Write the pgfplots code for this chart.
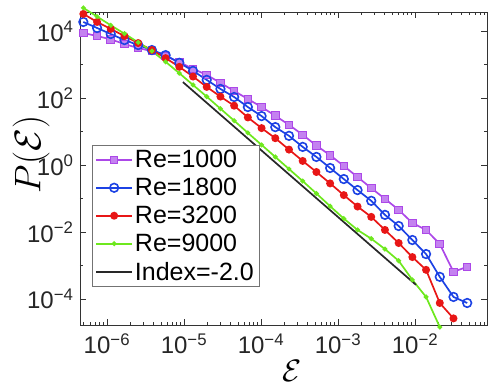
\RequirePackage{fix-cm}
\documentclass[border=0pt]{standalone}
\usepackage{fontspec}
\setmainfont{Liberation Sans}
\usepackage{pgfplots}
\pgfplotsset{compat=1.18}

\definecolor{cpur}{RGB}{172,72,232}
\definecolor{cpurfill}{RGB}{196,130,240}
\definecolor{cblu}{RGB}{28,66,228}
\definecolor{cred}{RGB}{232,22,22}
\definecolor{cgrn}{RGB}{110,232,30}
\definecolor{cblk}{RGB}{40,40,40}

\begin{document}
\begin{tikzpicture}
\begin{axis}[
    scale only axis,
    width=407pt, height=313pt,
    xmode=log, ymode=log,
    xmin=4.47e-7, xmax=0.0861,
    ymin=1.67e-5, ymax=3.69e4,
    clip=false,
    axis line style={draw=black!80, line width=0.5pt},
    tick style={black!80, line width=0.5pt},
    major tick length=6pt, minor tick length=3pt,
    xtick={1e-6,1e-5,1e-4,1e-3,1e-2},
    xticklabels={10\textsuperscript{−6},10\textsuperscript{−5},10\textsuperscript{−4},10\textsuperscript{−3},10\textsuperscript{−2}},
    minor xtick={5e-7,6e-7,7e-7,8e-7,9e-7,
        2e-6,3e-6,4e-6,5e-6,6e-6,7e-6,8e-6,9e-6,
        2e-5,3e-5,4e-5,5e-5,6e-5,7e-5,8e-5,9e-5,
        2e-4,3e-4,4e-4,5e-4,6e-4,7e-4,8e-4,9e-4,
        2e-3,3e-3,4e-3,5e-3,6e-3,7e-3,8e-3,9e-3,
        2e-2,3e-2,4e-2,5e-2,6e-2,7e-2,8e-2},
    ytick={1e-4,1e-2,1,1e2,1e4},
    yticklabels={10\textsuperscript{−4},10\textsuperscript{−2},10\textsuperscript{0},10\textsuperscript{2},10\textsuperscript{4}},
    minor ytick={1e-3,1e-1,10,1e3},
    ticklabel style={font=\fontsize{24}{27}\selectfont, text=black!85},
    xticklabel style={yshift=-5pt},
    yticklabel style={xshift=-3pt},
    xlabel={$\mathcal{E}$},
    ylabel={$P(\mathcal{E})$},
    xlabel style={font=\fontsize{31}{34}\selectfont, at={(axis description cs:0.52,-0.147)}, anchor=center},
    ylabel style={font=\fontsize{37}{40}\selectfont, at={(axis description cs:-0.12,0.545)}, anchor=center, rotate=0},
    legend style={at={(0.0295,0.575)}, anchor=north west,
        font=\fontsize{25}{28}\selectfont, draw=black!55, line width=0.6pt,
        inner sep=3pt, row sep=5pt},
    legend cell align=left,
    legend image code/.code={\draw[mark repeat=2,mark phase=2] plot coordinates {(0pt,0pt)(18pt,0pt)(36pt,0pt)};},
]
\addplot[cpur, line width=1.7pt, mark=square*, mark size=3.8pt,
    mark options={fill=cpurfill, draw=cpur, line width=1pt}] coordinates {
(4.94e-7,8710) (7.45e-7,7079) (1.122e-6,5623) (1.690e-6,4074) (2.547e-6,3090)
(3.837e-6,2512) (5.781e-6,1778) (8.710e-6,1175) (1.312e-5,741) (1.977e-5,490)
(2.979e-5,282) (4.487e-5,162) (6.761e-5,93.3) (1.019e-4,53.7) (1.535e-4,29.5)
(2.312e-4,15.8) (3.483e-4,7.94) (5.248e-4,3.80) (7.907e-4,1.95) (1.191e-3,0.933)
(1.795e-3,0.437) (2.704e-3,0.204) (4.074e-3,0.0977) (6.138e-3,0.0457) (9.247e-3,0.0186)
(1.393e-2,0.0115) (2.099e-2,0.00437) (3.162e-2,6.46e-4) (4.764e-2,9.12e-4)};
\addlegendentry{Re=1000}
\addplot[cblu, line width=1.7pt, mark=o, mark size=4.3pt,
    mark options={line width=1.6pt}] coordinates {
(4.94e-7,18621) (7.45e-7,12303) (1.122e-6,8128) (1.690e-6,5370) (2.547e-6,3802)
(3.837e-6,2692) (5.781e-6,1905) (8.710e-6,1122) (1.312e-5,646) (1.977e-5,347)
(2.979e-5,186) (4.487e-5,107) (6.761e-5,53.7) (1.019e-4,28.8) (1.535e-4,13.5)
(2.312e-4,7.41) (3.483e-4,3.47) (5.248e-4,1.74) (7.907e-4,0.813) (1.191e-3,0.380)
(1.795e-3,0.178) (2.704e-3,0.0851) (4.074e-3,0.0324) (6.138e-3,0.0151) (9.247e-3,0.00575)
(1.393e-2,0.00219) (2.099e-2,4.57e-4) (3.162e-2,1.15e-4) (4.764e-2,7.59e-5)};
\addlegendentry{Re=1800}
\addplot[cred, line width=1.7pt, mark=*, mark size=3.1pt] coordinates {
(4.94e-7,32359) (7.45e-7,18621) (1.122e-6,11482) (1.690e-6,7079) (2.547e-6,4365)
(3.837e-6,2692) (5.781e-6,1549) (8.710e-6,851) (1.312e-5,437) (1.977e-5,214)
(2.979e-5,110) (4.487e-5,58.9) (6.761e-5,26.3) (1.019e-4,12.6) (1.535e-4,6.31)
(2.312e-4,2.88) (3.483e-4,1.32) (5.248e-4,0.617) (7.907e-4,0.282) (1.191e-3,0.126)
(1.795e-3,0.0575) (2.704e-3,0.0282) (4.074e-3,0.0115) (6.138e-3,0.00468) (9.247e-3,0.00178)
(1.393e-2,7.41e-4) (2.099e-2,7.59e-5) (3.162e-2,2.63e-5)};
\addlegendentry{Re=3200}
\addplot[cgrn, line width=1.7pt, mark=*, mark size=1.5pt] coordinates {
(4.94e-7,48978) (7.45e-7,26915) (1.122e-6,14791) (1.690e-6,8318) (2.547e-6,4571)
(3.837e-6,2512) (5.781e-6,1202) (8.710e-6,550) (1.312e-5,245) (1.977e-5,110)
(2.979e-5,48.0) (4.487e-5,21.0) (6.761e-5,9.1) (1.019e-4,3.98) (1.535e-4,1.74)
(2.312e-4,0.759) (3.483e-4,0.331) (5.248e-4,0.141) (7.907e-4,0.0589) (1.191e-3,0.0251)
(1.795e-3,0.0115) (2.704e-3,0.00631) (4.074e-3,0.00309) (6.138e-3,0.00138) (9.247e-3,3.72e-4)
(1.393e-2,1.15e-4) (2.099e-2,1.45e-5)};
\addlegendentry{Re=9000}
\addplot[cblk, line width=1.7pt] coordinates {(9.7e-6,298) (1.03e-2,2.64e-4)};
\addlegendentry{Index=-2.0}
\end{axis}
\pgfresetboundingbox
\path (-80pt,-64pt) rectangle (416pt,325pt);
\end{tikzpicture}
\end{document}
